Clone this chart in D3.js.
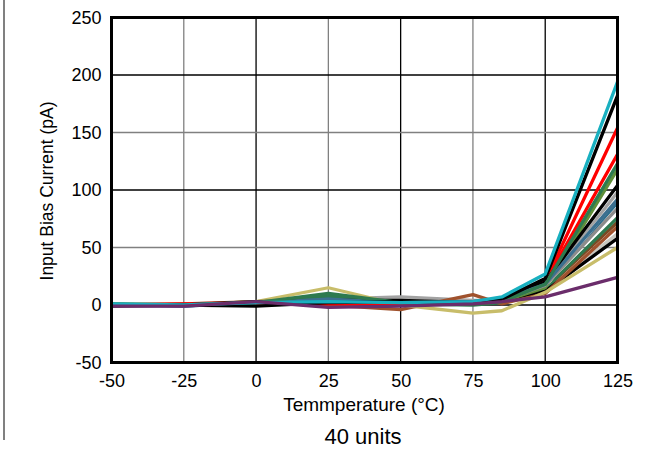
<!DOCTYPE html>
<html><head><meta charset="utf-8">
<script src="https://cdn.jsdelivr.net/npm/d3@7"></script>
<style>body{margin:0;background:#fff}svg{display:block;font-family:"Liberation Sans",Arial,sans-serif}</style>
</head><body>
<svg id="c" width="662" height="449"></svg>
<script>
const temps = [-50, -25, 0, 25, 50, 75, 85, 100, 125];
const xTicks = [-50, -25, 0, 25, 50, 75, 100, 125];
const yTicks = [-50, 0, 50, 100, 150, 200, 250];
const seriesColors = ["#c9c8c0","#a3a3a3","#2f6e8c","#7a4a24","#2e7a4f","#000000","#a0522d","#c8bd6a","#e8e8e8","#5f8f3a","#ff0000","#ff0000","#000000","#8c8c8c","#3b6f8f","#2e7a4f","#000000","#19b0c0","#6b2d6b"];
const s1 = [0, 0, 2, 2, 6, 3, 2, 13, 62];
const s2 = [0, 0, 3, 5, 7, 4, 4, 17, 98];
const s3 = [1, -1, 2, 6, 1, 3, 5, 18, 89];
const s4 = [0, 0, 2, 3, 1, 2, 3, 14, 72];
const s5 = [0, 0, 2, 8, 1, 0, 2, 14, 76];
const s6 = [0, 0, 2, 1, 3, 1, 4, 12, 58];
const s7 = [0, 1, 3, 0, -4, 9, 1, 10, 68];
const s8 = [1, 0, 3, 15, 0, -7, -5, 11, 50];
const s9 = [0, 0, 2, 3, 2, 2, 4, 16, 93];
const s10 = [0, 0, 2, 4, 0, 1, 3, 15, 118];
const s11 = [0, 1, 2, 2, 1, 2, 4, 20, 131];
const s12 = [0, 0, 1, 1, 1, 2, 5, 21, 154];
const s13 = [-1, 0, 3, 4, 4, 2, 5, 20, 104];
const s14 = [0, 0, 2, 3, 3, 2, 4, 17, 84];
const s15 = [0, -1, 2, 5, 2, 3, 5, 18, 92];
const s16 = [1, 0, 2, 10, 2, 1, 3, 18, 123];
const s17 = [0, 0, -1, 2, 3, 2, 5, 23, 182];
const s18 = [1, 0, 2, 3, 2, 3, 7, 27, 194];
const s19 = [-1, -1, 3, -2, -1, 1, 3, 7, 24];
const seriesValues = [s1,s2,s3,s4,s5,s6,s7,s8,s9,s10,s11,s12,s13,s14,s15,s16,s17,s18,s19];

const svg = d3.select("#c");
const L = 111.5, R = 617.5, T = 17.5, B = 362.5;
const x = d3.scaleLinear().domain([-50, 125]).range([L, R]);
const y = d3.scaleLinear().domain([-50, 250]).range([B, T]);

svg.append("line").attr("x1", 4).attr("x2", 4).attr("y1", 0).attr("y2", 440)
  .attr("stroke", "#808080").attr("stroke-width", 2);

const g = svg.append("g");
xTicks.slice(1, -1).forEach((t, i) => {
  g.append("line").attr("x1", x(t)).attr("x2", x(t)).attr("y1", T).attr("y2", B)
    .attr("stroke", i % 2 === 0 ? "#808080" : "#000").attr("stroke-width", 1.3);
});
yTicks.slice(1, -1).forEach((t, i) => {
  g.append("line").attr("x1", L).attr("x2", R).attr("y1", y(t)).attr("y2", y(t))
    .attr("stroke", i % 2 === 0 ? "#000" : "#808080").attr("stroke-width", 1.3);
});

const line = d3.line().x((d, i) => x(temps[i])).y(d => y(d));
svg.append("clipPath").attr("id", "clp").append("rect")
  .attr("x", L).attr("y", T).attr("width", R - L).attr("height", B - T);
const lg = svg.append("g").attr("clip-path", "url(#clp)");
seriesValues.forEach((vals, i) => {
  lg.append("path").attr("d", line(vals)).attr("fill", "none")
    .attr("stroke", seriesColors[i]).attr("stroke-width", 3.3).attr("stroke-linejoin", "round");
});

svg.append("rect").attr("x", L).attr("y", T).attr("width", R - L).attr("height", B - T)
  .attr("fill", "none").attr("stroke", "#000").attr("stroke-width", 3);

const fam = "Liberation Sans, Arial, sans-serif";
const xAxis = d3.axisBottom(x).tickValues(xTicks).tickSize(0).tickPadding(12).tickFormat(d => String(d));
const ax = svg.append("g").attr("transform", `translate(0,${B})`).call(xAxis);
ax.attr("font-size", 18).attr("font-family", fam);
ax.select(".domain").remove();
ax.selectAll("text").attr("fill", "#000");
const yAxis = d3.axisLeft(y).tickValues(yTicks).tickSize(0).tickPadding(10).tickFormat(d => String(d));
const ay = svg.append("g").attr("transform", `translate(${L},0)`).call(yAxis);
ay.attr("font-size", 18).attr("font-family", fam);
ay.select(".domain").remove();
ay.selectAll("text").attr("fill", "#000");

svg.append("text").attr("x", 364).attr("y", 411).attr("text-anchor", "middle")
  .attr("font-size", 19).attr("font-family", fam).text("Temmperature (°C)");
svg.append("text").attr("x", 363).attr("y", 444).attr("text-anchor", "middle")
  .attr("font-size", 22).attr("font-family", fam).text("40 units");
svg.append("text").attr("transform", "translate(53,191) rotate(-90)").attr("text-anchor", "middle")
  .attr("font-size", 17.5).attr("font-family", fam).text("Input Bias Current (pA)");
</script>
</body></html>
